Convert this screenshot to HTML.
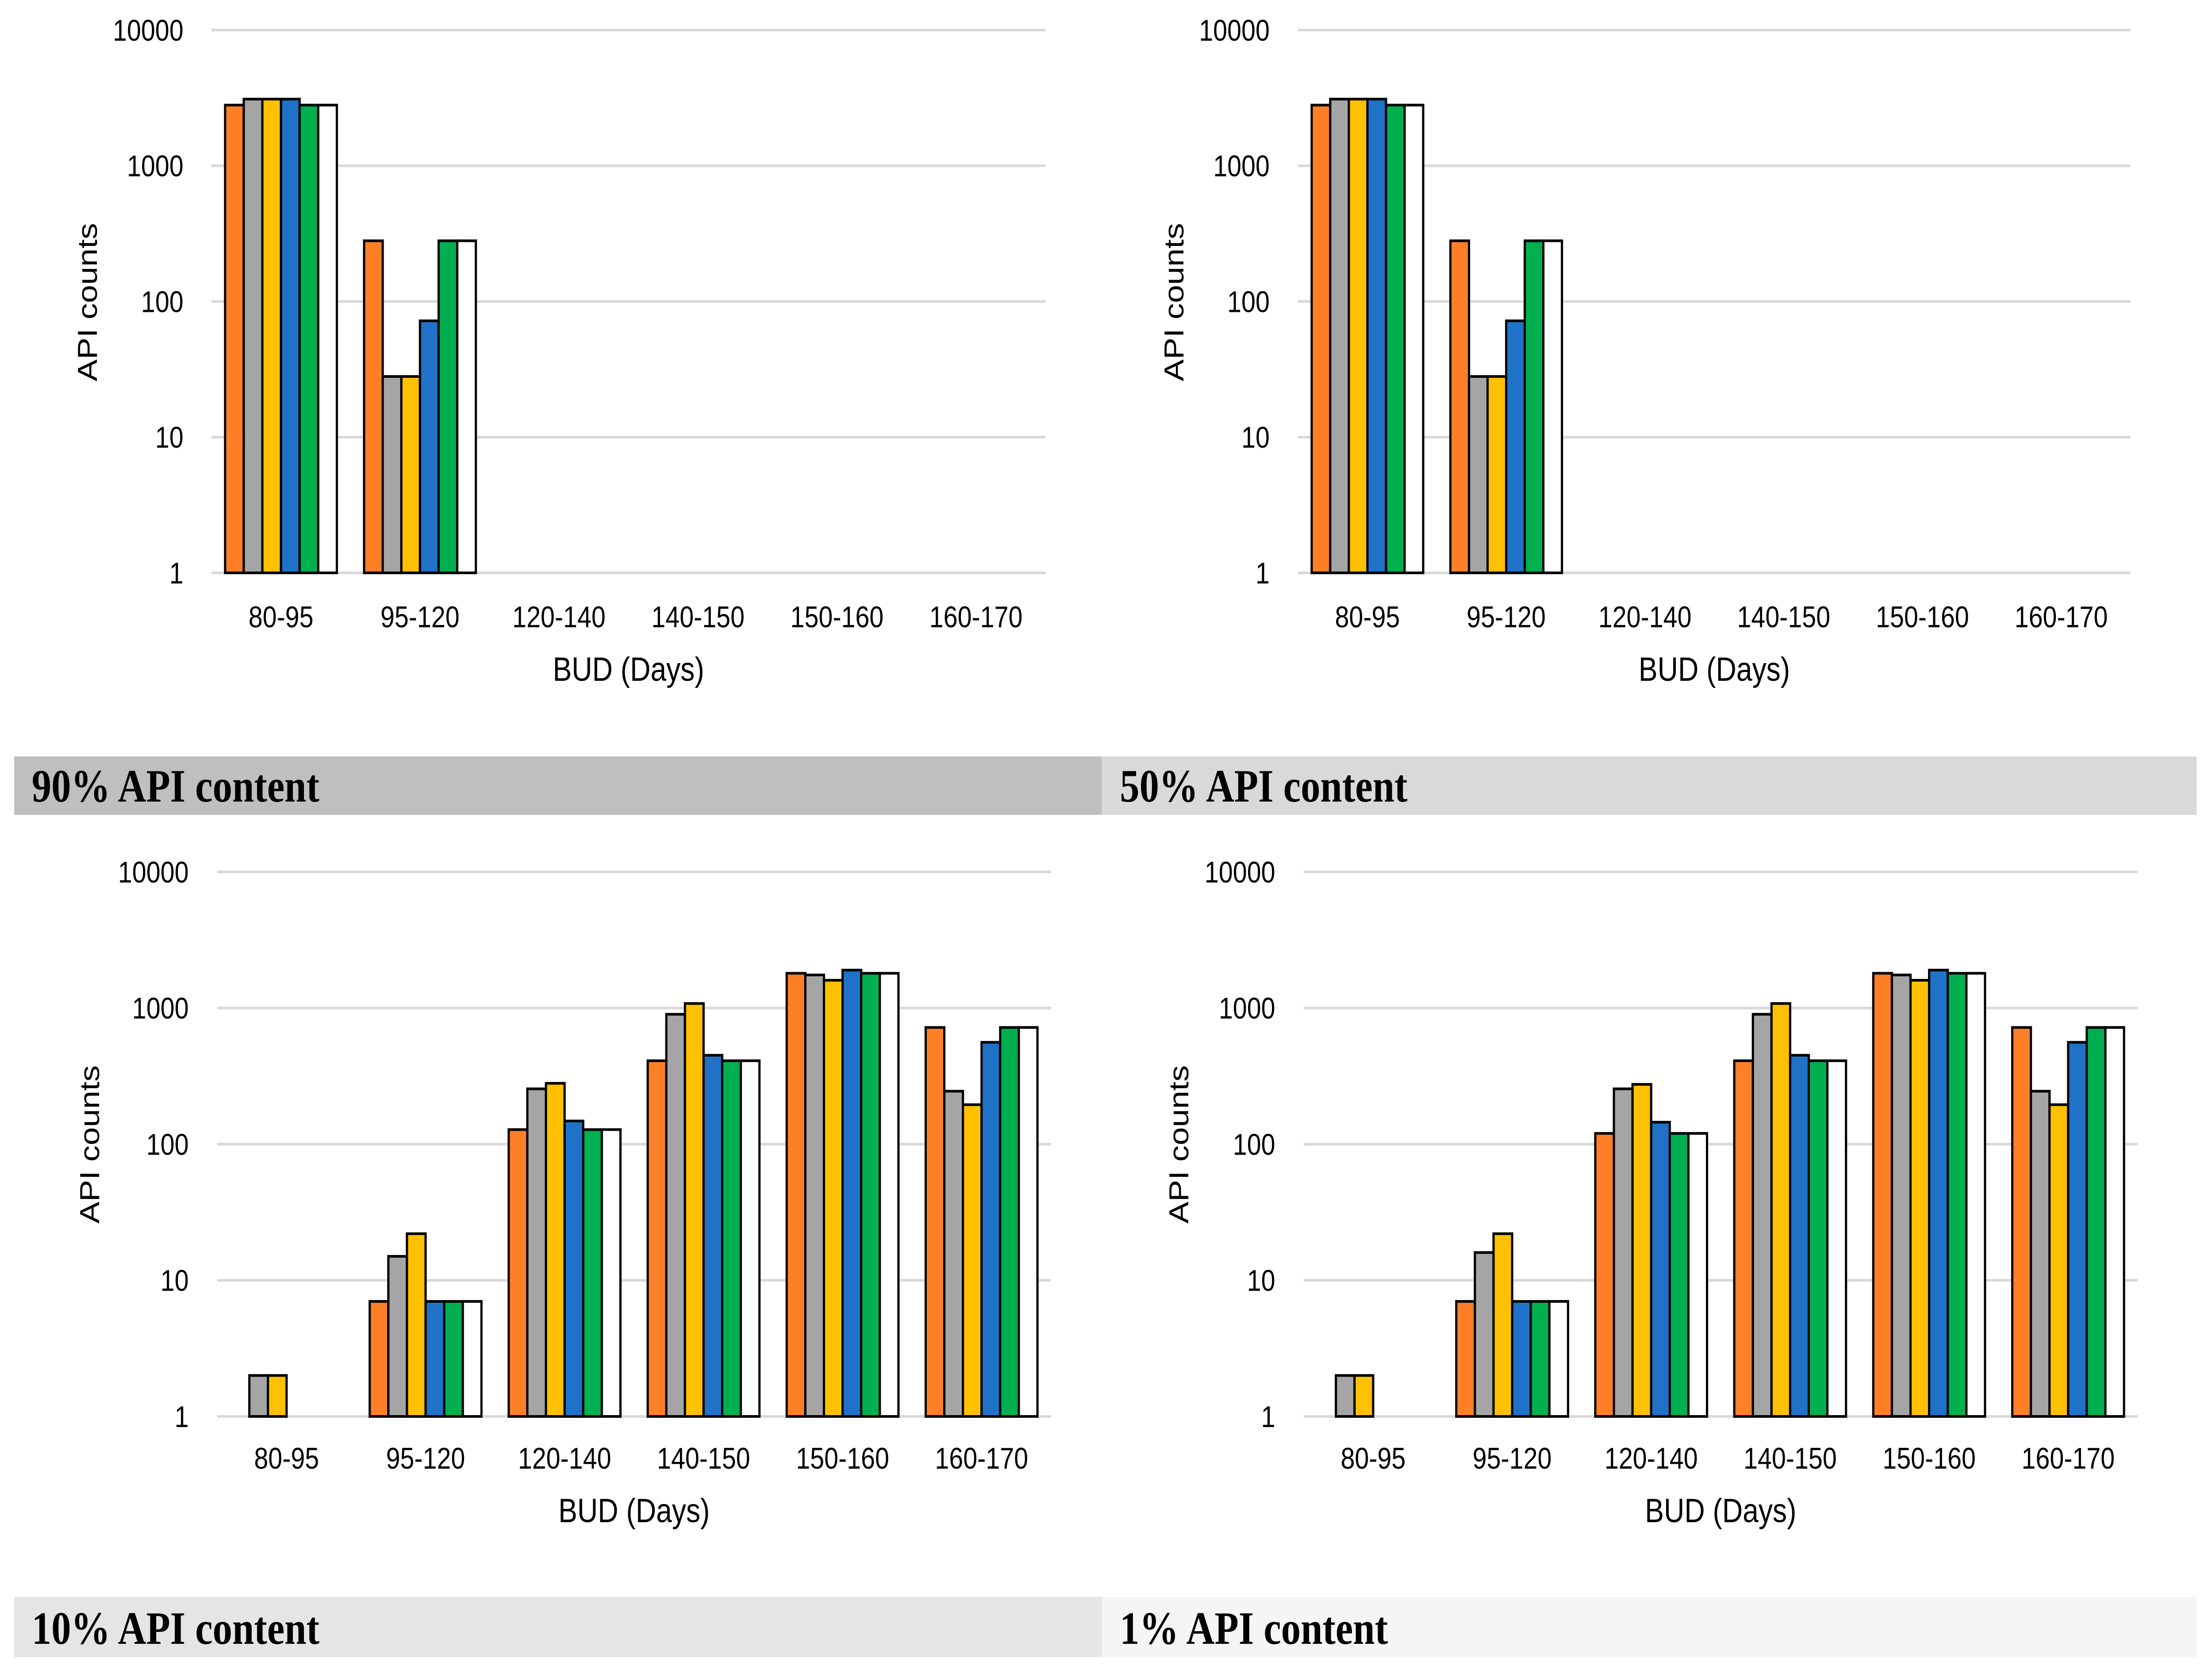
<!DOCTYPE html>
<html><head><meta charset="utf-8"><style>
html,body{margin:0;padding:0;background:#fff;overflow:hidden;width:100vw;height:100vh;}
svg{display:block;width:100vw;height:100vh;}
text{font-family:"Liberation Sans",sans-serif;fill:#000;}
.ttl{font-family:"Liberation Serif",serif;font-weight:bold;font-size:105px;}
</style></head><body>
<svg id="root" viewBox="0 0 5920 3791" preserveAspectRatio="none" xmlns="http://www.w3.org/2000/svg">
<rect x="38" y="1710" width="2911" height="132" fill="#bfbfbf"/>
<text class="ttl" x="85" y="1812">90% API content</text>
<rect x="2949" y="1710" width="2930" height="132" fill="#d9d9d9"/>
<text class="ttl" x="2997" y="1812">50% API content</text>
<rect x="38" y="3610" width="2911" height="136" fill="#e5e5e5"/>
<text class="ttl" x="85" y="3716">10% API content</text>
<rect x="2949" y="3610" width="2930" height="136" fill="#f5f5f5"/>
<text class="ttl" x="2997" y="3716">1% API content</text>
</svg>
<script>
const categories = ["80-95","95-120","120-140","140-150","150-160","160-170"];
const yTicks = [1,10,100,1000,10000];
const tickLabels = ["1","10","100","1000","10000"];
const seriesColors = ["#ff7f27","#a5a5a5","#ffc000","#1f72c8","#00b050","#ffffff"];
// values per category, six series each; null = no bar
const data90 = [[2800,3100,3100,3100,2800,2800],[280,28,28,72,280,280],[null,null,null,null,null,null],[null,null,null,null,null,null],[null,null,null,null,null,null],[null,null,null,null,null,null]];
const data50 = [[2800,3100,3100,3100,2800,2800],[280,28,28,72,280,280],[null,null,null,null,null,null],[null,null,null,null,null,null],[null,null,null,null,null,null],[null,null,null,null,null,null]];
const data10 = [[null,2,2,null,null,null],[7,15,22,7,7,7],[128,255,280,148,128,128],[410,900,1080,450,410,410],[1800,1750,1600,1900,1800,1800],[720,245,195,560,720,720]];
const data1 = [[null,2,2,null,null,null],[7,16,22,7,7,7],[120,255,275,145,120,120],[410,900,1080,450,410,410],[1800,1750,1600,1900,1800,1800],[720,245,195,560,720,720]];

const NS="http://www.w3.org/2000/svg";
const root=document.getElementById('root');
function mk(tag,attrs,parent){const e=document.createElementNS(NS,tag);for(const k in attrs)e.setAttribute(k,attrs[k]);(parent||root).appendChild(e);return e;}

function drawChart(id,data,x0,x1,yTop,yBot,labY,titleX,titleY,ylabRight){
  const g=mk('g',{});
  
  
  const lmin=0,lmax=4;
  const yScale=v=>yBot-(Math.log10(v)-lmin)/(lmax-lmin)*(yBot-yTop);
  const cw=(x1-x0)/categories.length;
  const gw=cw*0.804, bw=gw/6;
  yTicks.forEach((t,i)=>{
    const y=yScale(t);
    const l=mk('line',{x1:x0,x2:x1,y1:y,y2:y,stroke:'#d9d9d9','stroke-width':6},g);
    
    
    const tx=mk('text',{x:ylabRight,y:y+24,'text-anchor':'end','font-size':68},g);
    tx.textContent=tickLabels[i];
    
    
  });
  categories.forEach((c,ci)=>{
    const cx=x0+cw*(ci+0.5);
    const gx=cx-gw/2;
    data[ci].forEach((v,si)=>{
      if(v==null)return;
      const y=yScale(v);
      const r=mk('rect',{x:gx+si*bw,y:y,width:bw,height:yBot-y,fill:seriesColors[si],stroke:'#000','stroke-width':6},g);
      
      
    });
    const tx=mk('text',{x:cx,y:labY,'text-anchor':'middle','font-size':68},g);
    tx.textContent=c;
    
    
  });
  const xt=mk('text',{x:(x0+x1)/2,y:labY+121,'text-anchor':'middle','font-size':76},g);
  xt.textContent='BUD (Days)';
  
  
  const yt=mk('text',{x:0,y:0,'text-anchor':'middle','font-size':74,transform:'translate('+(titleX+25)+','+titleY+') rotate(-90)'},g);
  yt.textContent='API counts';
  
  
}
drawChart('90',data90,566,2798,68,1295,1418,234,683,491);
drawChart('50',data50,3474,5702,68,1295,1418,3142,683,3398);
drawChart('10',data10,581,2813,1971,3202,3320,240,2587,505);
drawChart('1',data1,3489,5721,1971,3202,3320,3155,2587,3413);
</script>
</body></html>
